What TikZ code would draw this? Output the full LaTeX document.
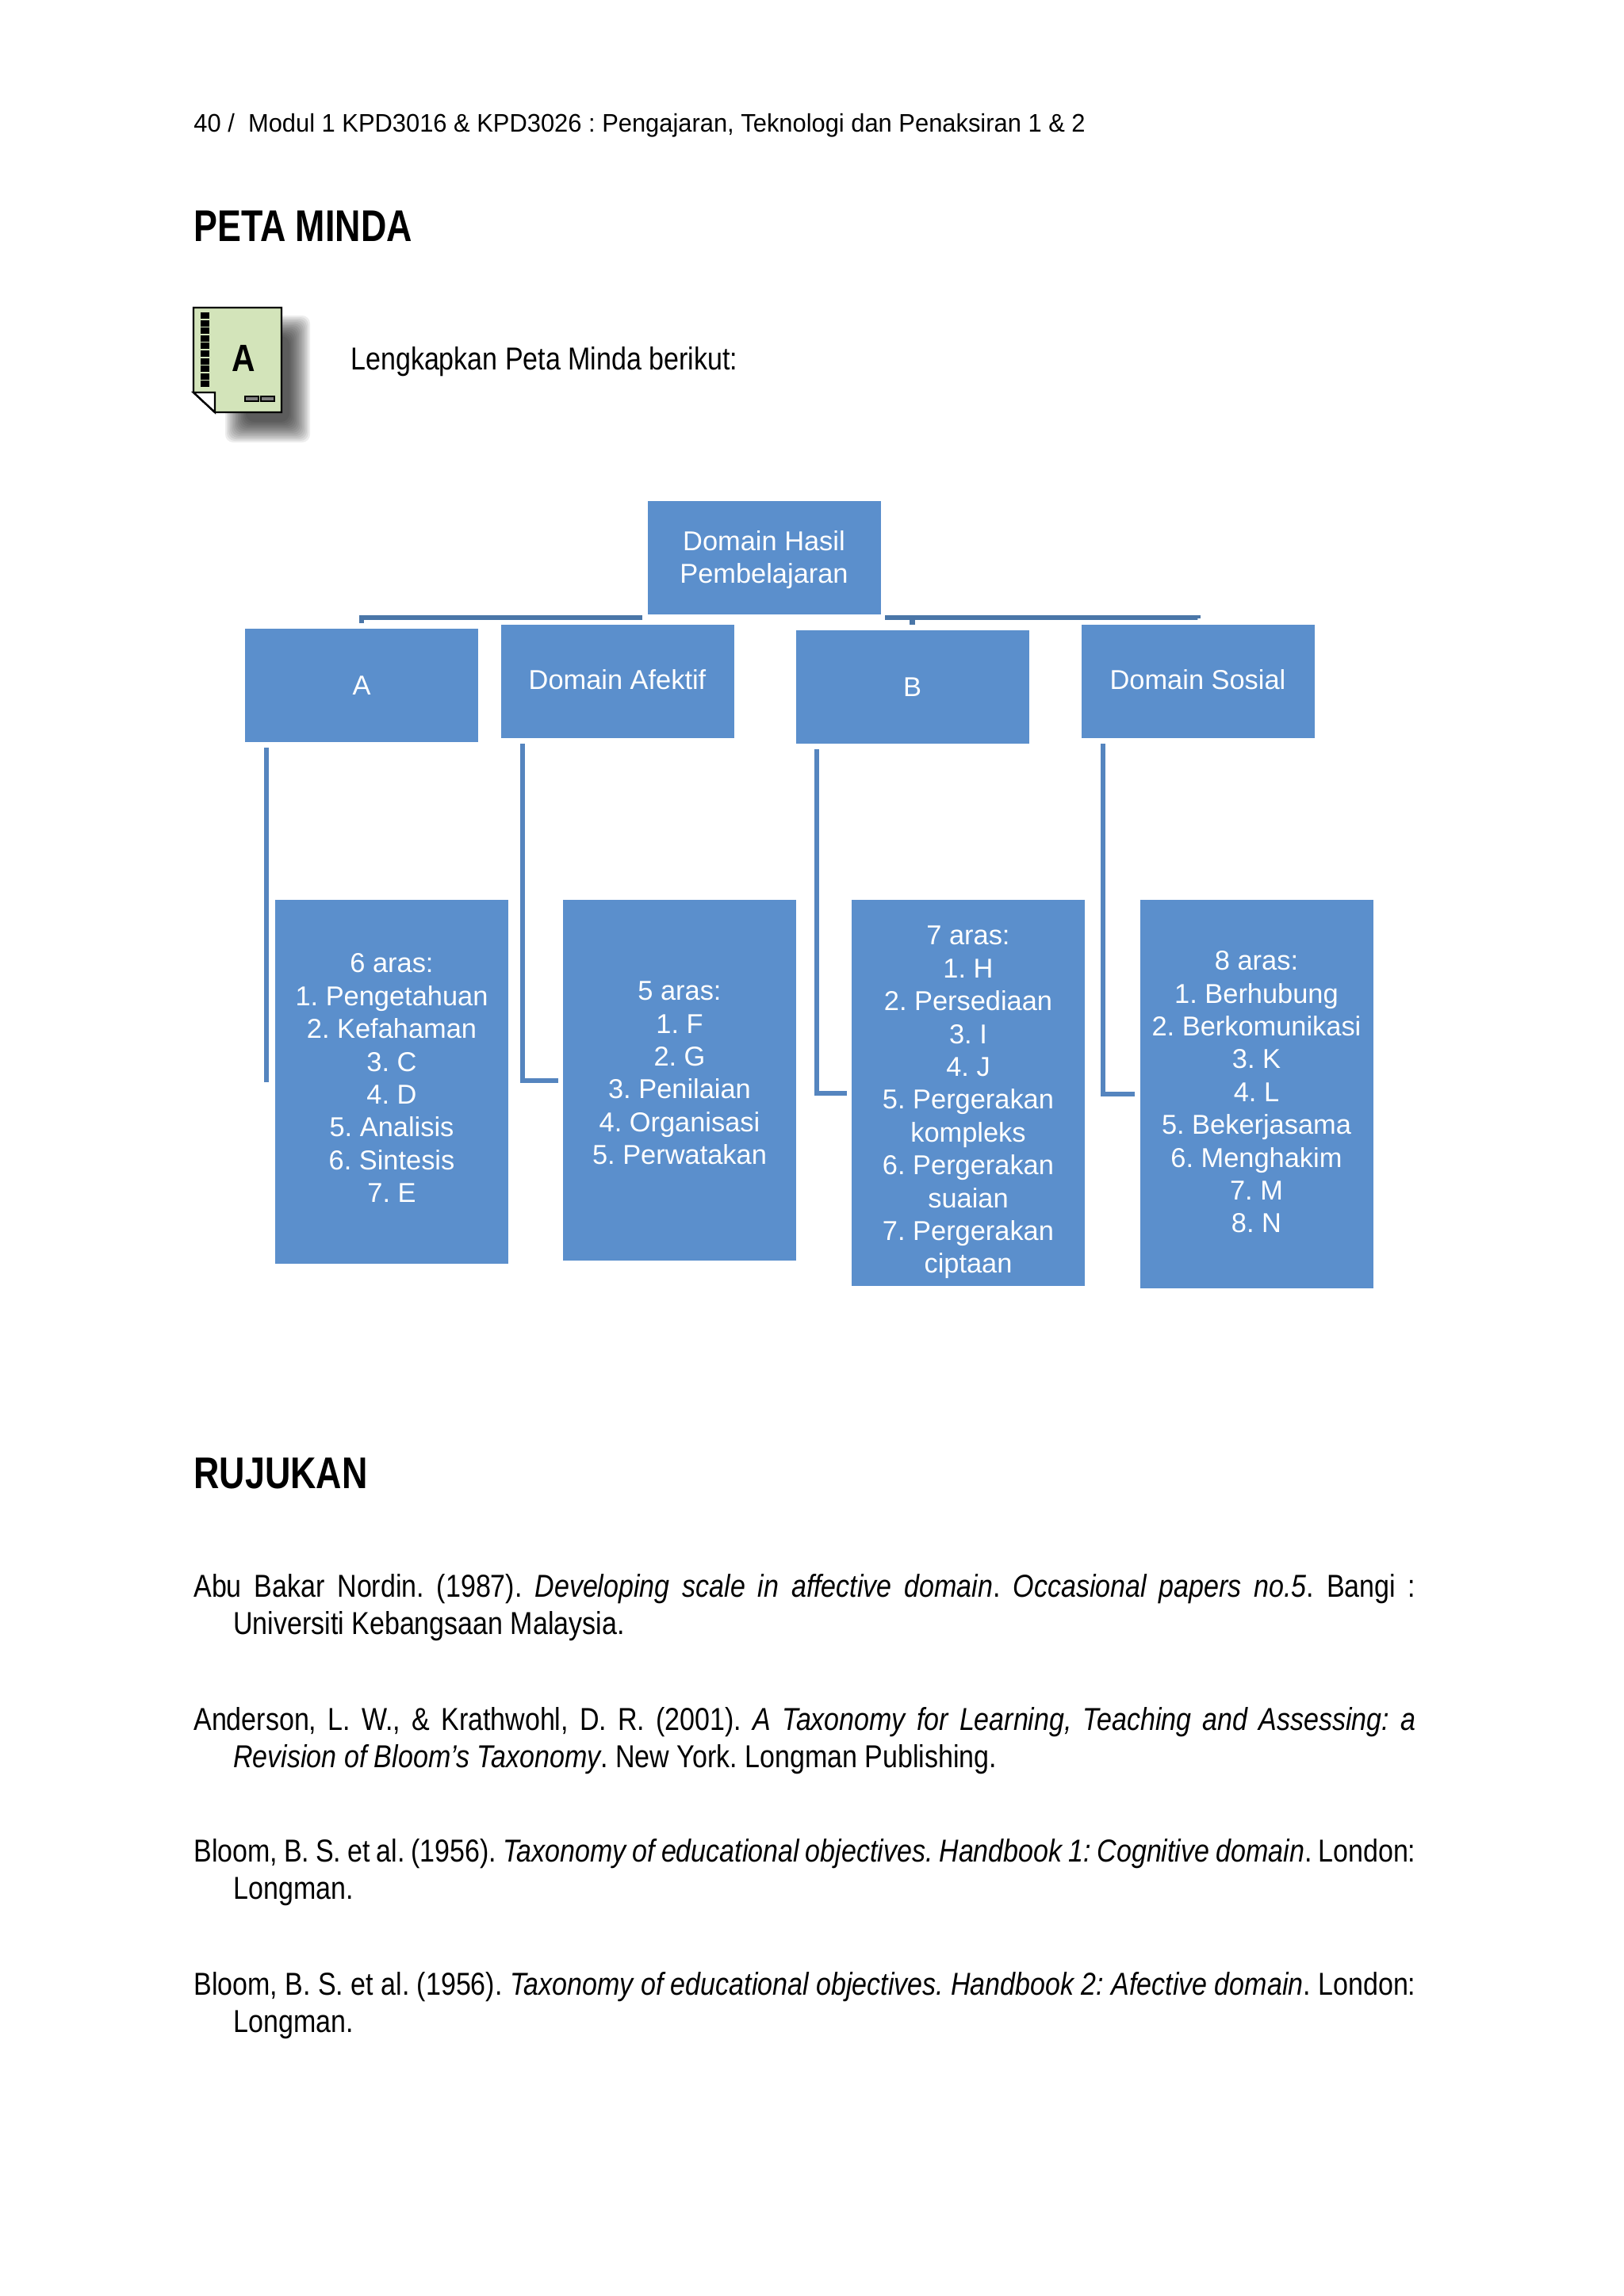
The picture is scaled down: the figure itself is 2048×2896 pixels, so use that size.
\documentclass[tikz,border=0pt]{standalone}
\usepackage{fontspec}
\setmainfont{Liberation Sans}
\newfontfamily\narrowfont[FakeStretch=0.85]{Liberation Sans}
\newfontfamily\headfont[FakeStretch=0.80]{Liberation Sans}
\newfontfamily\pagefont[FakeStretch=0.965]{Liberation Sans}
\usepackage{tikz}
\usetikzlibrary{calc}
\definecolor{boxblue}{HTML}{5B8FCC}
\definecolor{topline}{HTML}{4A76A8}
\definecolor{lowline}{HTML}{5585BF}
\definecolor{pagegreen}{HTML}{D3E4BA}
\newcommand{\refhang}{\leavevmode\hyphenpenalty=10000\exhyphenpenalty=10000\hangindent=25pt\hangafter=1\relax}
\tikzstyle{topbox} = [rectangle, minimum width=147pt, minimum height=71.5pt, inner sep=0pt, text centered, fill=boxblue, text=white, font=\fontsize{17.2}{20.7}\selectfont, align=center]
\tikzstyle{levelbox} = [rectangle, minimum width=147pt, inner sep=0pt, text centered, fill=boxblue, text=white, font=\fontsize{17.2}{20.7}\selectfont, align=center]
\tikzstyle{headline} = [anchor=base west, inner sep=0pt, font=\headfont\bfseries\fontsize{28}{32}\selectfont]
\tikzstyle{refitem} = [anchor=north west, inner sep=0pt, text width=770.5pt, align=justify, font=\narrowfont\fontsize{20}{23.5}\selectfont]
\tikzstyle{toplink} = [line width=3.2pt, draw=topline]
\tikzstyle{lowlink} = [line width=3pt, draw=lowline]

\begin{document}
\frenchspacing
\begin{tikzpicture}[x=0.5pt, y=-0.5pt]
        \useasboundingbox (0,0) rectangle (2048,2896);

        \node (header) [anchor=base west, inner sep=0pt, font=\pagefont\fontsize{16}{20}\selectfont] at (244,166) {40 /\ \ Modul 1 KPD3016 \& KPD3026 : Pengajaran, Teknologi dan Penaksiran 1 \& 2};
        \node (peta) [headline] at (244,304) {PETA MINDA};
        \node (lengkap) [anchor=base west, inner sep=0pt, font=\narrowfont\fontsize{20}{24}\selectfont] at (442,466) {Lengkapkan Peta Minda berikut:};

        % icon
        \foreach \i in {0,...,13} {
            \fill [black, opacity=0.07, rounded corners=5pt] (284+2*\i,398+2*\i) rectangle (391-2*\i,558-2*\i);
        }
        \filldraw [fill=pagegreen, draw=black, line width=1.2pt] (244,388) -- (355,388) -- (355,520) -- (271,520) -- (244,495) -- cycle;
        \filldraw [fill=white, draw=black, line width=1.2pt] (244,495) -- (271,495) -- (271,520) -- cycle;
        \foreach \i in {0,...,9} {
            \fill [black] (253,394+9.6*\i) rectangle (264,402+9.6*\i);
        }
        \filldraw [fill=gray, draw=black, line width=0.8pt] (309,500) rectangle (326,506);
        \filldraw [fill=gray, draw=black, line width=0.8pt] (329,500) rectangle (346,506);
        \node (letter) [inner sep=0pt, font=\narrowfont\bfseries\fontsize{24}{24}\selectfont] at (307,452) {A};

        % boxes
        \node (root) [topbox] at (963.5,703.5) {\mbox{}\\[-5.9pt]Domain Hasil\\Pembelajaran};
        \node (cogn) [topbox] at (456,864.5) {A};
        \node (afek) [topbox] at (778.5,859) {Domain Afektif\\[-18.9pt]};
        \node (psik) [topbox] at (1150.5,866.5) {B};
        \node (sosi) [topbox] at (1510.5,859) {Domain Sosial\\[-18.9pt]};

        \node (cognlist) [levelbox, minimum height=229.5pt] at (494,1364.5) {6 aras:\\1. Pengetahuan\\2. Kefahaman\\3. C\\4. D\\5. Analisis\\6. Sintesis\\7. E\\[-16pt]};
        \node (afeklist) [levelbox, minimum height=227.5pt] at (857,1362.5) {5 aras:\\1. F\\2. G\\3. Penilaian\\4. Organisasi\\5. Perwatakan\\[-11.5pt]};
        \node (psiklist) [levelbox, minimum height=243.5pt] at (1221,1378.5) {\mbox{}\\[3.3pt]7 aras:\\1. H\\2. Persediaan\\3. I\\4. J\\5. Pergerakan\\kompleks\\6. Pergerakan\\suaian\\7. Pergerakan\\ciptaan};
        \node (sosilist) [levelbox, minimum height=245pt] at (1584.5,1380) {8 aras:\\1. Berhubung\\2. Berkomunikasi\\3. K\\4. L\\5. Bekerjasama\\6. Menghakim\\7. M\\8. N\\[-17.9pt]};

        % connectors
        \coordinate (rootl) at (810,779);
        \coordinate (rootr) at (1116,779);
        \coordinate (cogndrop) at (336,943);
        \coordinate (afekdrop) at (659,938);
        \coordinate (psikdrop) at (1030,945);
        \coordinate (sosidrop) at (1391,938);

        \draw [toplink, shorten >=3.5pt] (rootl) -| (cogn.north);
        \draw [toplink, shorten >=3.9pt] (rootl) -| (afek.north);
        \draw [toplink, shorten >=3.5pt] (rootr) -| (psik.north);
        \draw [toplink, shorten >=3.9pt] (rootr) -| (sosi.north);

        \draw [lowlink] (cogndrop) -- (cogndrop |- cognlist.west);
        \draw [lowlink, shorten >=3pt] (afekdrop) |- (afeklist.west);
        \draw [lowlink, shorten >=3pt] (psikdrop) |- (psiklist.west);
        \draw [lowlink, shorten >=3pt] (sosidrop) |- (sosilist.west);

        % references
        \node (rujukan) [headline] at (244,1877) {RUJUKAN};
        \node (ref1) [refitem] at (244,1985) {\refhang Abu Bakar Nordin. (1987). \textit{Developing scale in affective domain}. \textit{Occasional papers no.5}. Bangi : Universiti Kebangsaan Malaysia.\par};
        \node (ref2) [refitem] at (244,2153) {\refhang Anderson, L. W., \& Krathwohl, D. R. (2001). \textit{A Taxonomy for Learning, Teaching and Assessing: a Revision of Bloom’s Taxonomy}. New York. Longman Publishing.\par};
        \node (ref3) [refitem] at (244,2319) {\refhang Bloom, B. S. et al. (1956). \textit{Taxonomy of educational objectives. Handbook 1: Cognitive domain}. London: Longman.\par};
        \node (ref4) [refitem] at (244,2487) {\refhang Bloom, B. S. et al. (1956). \textit{Taxonomy of educational objectives. Handbook 2: Afective domain}. London: Longman.\par};
\end{tikzpicture}
\end{document}
